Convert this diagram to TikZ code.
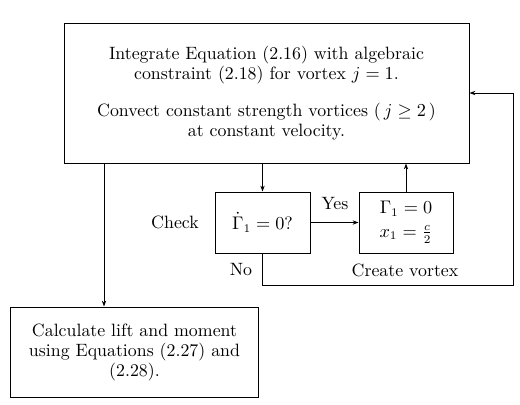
\documentclass[tikz,border=0pt]{standalone}
\usetikzlibrary{arrows.meta}
\begin{document}
\begin{tikzpicture}[x=0.6pt,y=-0.6pt,
  every node/.style={font=\fontsize{10.7pt}{12pt}\selectfont},
  box/.style={draw,line width=0.6pt,align=center,inner sep=0pt},
  arr/.style={line width=0.6pt,-{Stealth[length=3.5pt,width=2.6pt]}},
  lbl/.style={inner sep=0pt}]
\useasboundingbox (0,0) rectangle (520,404);
\node[box,minimum width=243pt,minimum height=84pt] (top) at (266.5,93)
  {Integrate Equation (2.16) with algebraic\\constraint (2.18) for vortex $j=1$.\\[10pt]
   Convect constant strength vortices (\,$j\geq 2$\,)\\at constant velocity.};
\node[box,minimum width=57pt,minimum height=36.6pt] (chk) at (262.5,222.5) {$\dot{\Gamma}_1=0$?};
\node[box,minimum width=56.4pt,minimum height=36.6pt] (cre) at (406,222.5)
  {$\Gamma_1=0$\\[2pt]$x_1=\frac{c}{2}$};
\node[box,minimum width=149.4pt,minimum height=54pt] (bot) at (134.5,352)
  {Calculate lift and moment\\using Equations (2.27) and\\(2.28).};
\node[lbl] (lcheck) at (175,222) {Check};
\node[lbl] (lyes) at (335,204) {Yes};
\node[lbl] (lno) at (241,270) {No};
\node[lbl] (lcre) at (405,270) {Create vortex};
\coordinate (c1) at (104,0);
\coordinate (fb) at (513,285);
\draw[arr] (top.south -| c1) -- (bot.north -| c1);
\draw[arr] (top.south -| chk.north) -- (chk.north);
\draw[arr] (chk.east) -- (cre.west);
\draw[arr] (cre.north) -- (cre.north |- top.south);
\draw[arr] (chk.south) |- (fb) |- (top.east);
\end{tikzpicture}
\end{document}
